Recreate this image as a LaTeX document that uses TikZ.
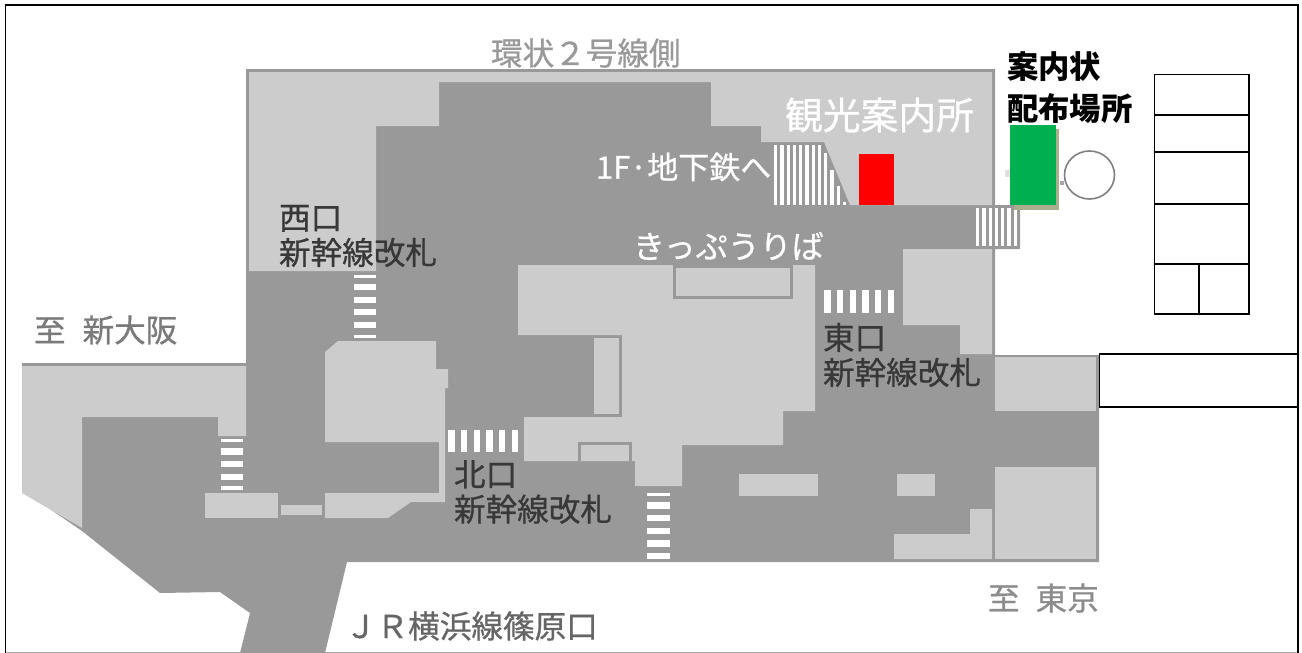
\documentclass[tikz,border=0pt]{standalone}
\usepackage{fontspec}
\setmainfont{Noto Sans CJK JP}
\newfontfamily\heavyfont[FakeBold=0.7]{Noto Sans CJK JP}
\definecolor{hall}{HTML}{999999}
\definecolor{blockgray}{HTML}{CCCCCC}
\definecolor{markgreen}{HTML}{00B050}
\definecolor{markshadow}{HTML}{A9AE8D}
\tikzset{
  darkfill/.style={fill=hall,draw=none},
  lightfill/.style={fill=blockgray,draw=none},
  stripefill/.style={fill=white,draw=none},
  planbox/.style={draw=black,line width=1.5pt,fill=white},
  txtbase/.style={inner sep=0pt,outer sep=0pt,anchor=west,align=left,font=\heavyfont\fontsize{31.6}{35}\selectfont},
  txtgray/.style={txtbase,text=hall},
  txtwhite/.style={txtbase,text=white},
  txtdark/.style={txtbase,text=black!78},
  txtstrong/.style={txtbase,text=black,font=\fontsize{31.4}{42}\selectfont\bfseries},
}
\begin{document}
\begin{tikzpicture}[x=1pt,y=-1pt]
\useasboundingbox (0,0) rectangle (1302,653);
\fill[white] (0,0) rectangle (1302,653);
% frame
\draw[black!35,line width=1pt] (5,652.3) -- (1298,652.3);
\draw[black,line width=1.6pt] (5.5,653) -- (5.5,5) -- (1298,5) -- (1298,653);
% concourse base
\fill[darkfill] (246,69) -- (995,69) -- (995,205) -- (1020,205) -- (1020,249) -- (995,249) -- (995,355) -- (1099,355) -- (1099,562)
  -- (347,562) -- (325,653) -- (240,653) -- (250,613) -- (220,592) -- (160,593) -- (82,531) -- (22,490) -- (22,363) -- (246,363) -- cycle;
% upper block
\fill[lightfill] (249,72) -- (992,72) -- (992,205) -- (850,205) -- (824,142) -- (761,142) -- (761,126) -- (711,126) -- (711,82) -- (439,82) -- (439,126) -- (376,126) -- (376,271) -- (249,271) -- cycle;
% east block
\fill[lightfill] (903,249) -- (992,249) -- (992,354) -- (960,354) -- (960,325) -- (903,325) -- cycle;
% right blocks
\fill[lightfill] (995,357) rectangle (1096,411);
\fill[lightfill] (995,467) rectangle (1096,559);
\fill[lightfill] (894,559) -- (992,559) -- (992,509) -- (970,509) -- (970,534) -- (894,534) -- cycle;
\fill[lightfill] (897,474) rectangle (935,496);
\fill[lightfill] (739,474) rectangle (818,496);
% central block
\fill[lightfill] (518,265) -- (815,265) -- (815,411) -- (783,411) -- (783,445) -- (682,445) -- (682,486) -- (635,486) -- (635,461) -- (524,461) -- (524,417) -- (622,417) -- (622,335) -- (518,335) -- cycle;
\fill[darkfill] (673,265) rectangle (793,299);
\fill[lightfill] (676,268) rectangle (790,296);
\fill[lightfill] (594,338) rectangle (619,414);
\fill[darkfill] (578,442) rectangle (632,461);
\fill[lightfill] (581,445) rectangle (629,461);
% west block
\fill[lightfill] (325,352) -- (338,341) -- (436,341) -- (436,369) -- (448,369) -- (448,388) -- (445,388) -- (445,502) -- (411,502) -- (388,518) -- (325,518) -- (325,493) -- (439,493) -- (439,442) -- (325,442) -- cycle;
\fill[lightfill] (281,505) rectangle (322,515);
\fill[lightfill] (205,493) rectangle (278,518);
% far-left block
\fill[lightfill] (22,366) -- (246,366) -- (246,436) -- (218,436) -- (218,417) -- (82,417) -- (82,528) -- (22,493) -- cycle;
% horizontal stripes
\foreach \a/\b in {275/278,284/290,297/303,309/315,322/328,335/338} \fill[stripefill] (354,\a) rectangle (376,\b);
\foreach \a/\b in {439/442,448/455,461/467,474/480,486/490} \fill[stripefill] (221,\a) rectangle (243,\b);
\foreach \a/\b in {493/496,502/509,515/521,528/534,540/547,553/559} \fill[stripefill] (647,\a) rectangle (670,\b);
% vertical stripes
\foreach \a/\b in {448/455,461/467,474/480,486/493,499/505,512/518} \fill[stripefill] (\a,430) rectangle (\b,452);
\foreach \a/\b in {824/831,837/843,850/856,862/869,875/881,888/894} \fill[stripefill] (\a,290) rectangle (\b,313);
\foreach \i/\t in {0/145,1/145,2/145,3/145,4/145,5/145,6/145,7/145,8/153,9/170,10/186,11/202}
  \fill[stripefill] ({774+6.25*\i},\t) rectangle ({777.3+6.25*\i},205);
\foreach \i in {0,...,6} \fill[stripefill] ({976+6.25*\i},208) rectangle ({979.3+6.25*\i},246);
% markers
\fill[red] (859,154) rectangle (894,205);
\fill[black!12] (1005,170) rectangle (1010,177);
\fill[black!35] (1060,181) rectangle (1064,185);
\fill[markshadow] (1014,129) rectangle (1059,210);
\fill[markgreen] (1010,125) rectangle (1056,205);
\draw[black!50,line width=1.6pt] (1089.5,175) ellipse (25pt and 24pt);
% right plans
\draw[planbox] (1154.5,74.5) rectangle (1249,314);
\draw[black,line width=1.5pt] (1154.5,115) -- (1249,115) (1154.5,152) -- (1249,152) (1154.5,204) -- (1249,204) (1154.5,264) -- (1249,264) (1199,264) -- (1199,314);
\draw[planbox] (1099.5,354) rectangle (1298,407);
% labels
\node[txtgray] (ring) at (491,53) {環状２号線側};
\node[txtwhite,font=\heavyfont\fontsize{37.8}{40}\selectfont] (info) at (785,115) {観光案内所};
\node[txtwhite,font=\heavyfont\fontsize{31}{35}\selectfont] (metro) at (596,167) {1F·地下鉄へ};
\node[txtwhite,font=\heavyfont\fontsize{32}{35}\selectfont] (tickets) at (633,246) {きっぷうりば};
\node[txtdark] (west) at (279,236) {西口\\新幹線改札};
\node[txtdark] (east) at (823,355) {東口\\新幹線改札};
\node[txtdark] (north) at (454,492) {北口\\新幹線改札};
\node[txtgray,text=black!52] (osaka) at (34,330) {至\hspace{17pt}新大阪};
\node[txtgray,text=black!45] (tokyo) at (988,598) {至\hspace{16pt}東京};
\node[txtgray,text=black!60] (jr) at (345,626) {ＪＲ横浜線篠原口};
\node[txtstrong] (invite) at (1007,88) {案内状\\配布場所};
\end{tikzpicture}
\end{document}
